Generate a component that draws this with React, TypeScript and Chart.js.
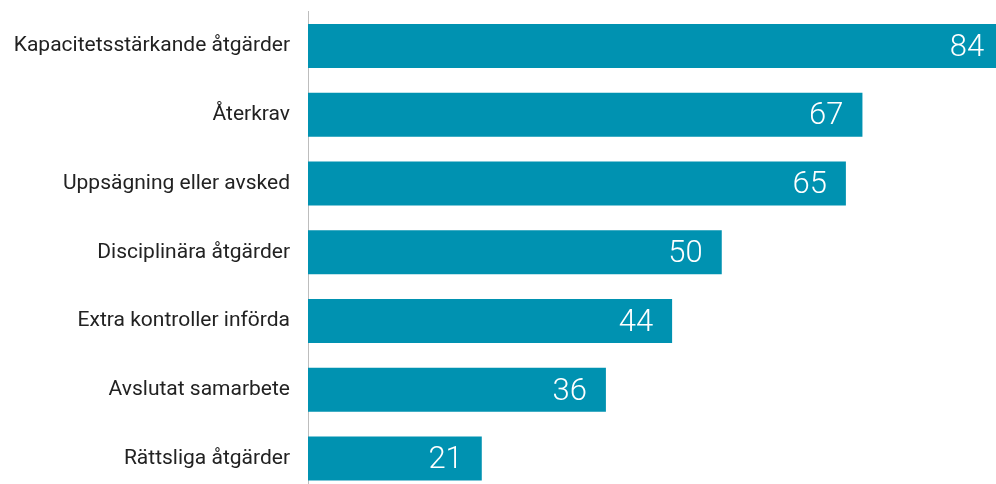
import React, { useEffect, useRef } from "react";
import { Chart, registerables } from "chart.js";

Chart.register(...registerables);

const categories = [
  "Kapacitetsstärkande åtgärder",
  "Återkrav",
  "Uppsägning eller avsked",
  "Disciplinära åtgärder",
  "Extra kontroller införda",
  "Avslutat samarbete",
  "Rättsliga åtgärder",
];
const values = [84, 67, 65, 50, 44, 36, 21];

const valueLabels = {
  id: "valueLabels",
  afterDatasetsDraw(chart: any) {
    const { ctx } = chart;
    const meta = chart.getDatasetMeta(0);
    ctx.save();
    ctx.fillStyle = "#ffffff";
    ctx.font = "300 31px Roboto";
    ctx.textAlign = "right";
    ctx.textBaseline = "middle";
    meta.data.forEach((bar: any, i: number) => {
      ctx.fillText(String(values[i]), bar.x - 19, bar.y + 2);
    });
    ctx.restore();
  },
};

export default function App() {
  const ref = useRef<HTMLCanvasElement>(null);
  useEffect(() => {
    const chart = new Chart(ref.current!, {
      type: "bar",
      data: {
        labels: categories,
        datasets: [
          {
            data: values,
            backgroundColor: "#0092B1",
            borderWidth: 0,
            barPercentage: 0.64,
            categoryPercentage: 1,
          },
        ],
      },
      options: {
        indexAxis: "y",
        animation: false,
        responsive: false,
        layout: { padding: { top: 11.5, right: 0, bottom: 0, left: 0 } },
        plugins: { legend: { display: false }, tooltip: { enabled: false } },
        scales: {
          x: {
            min: 0,
            max: 83.14,
            display: false,
          },
          y: {
            afterFit: (s: any) => {
              s.width = 308;
              s.paddingTop = 0;
              s.paddingBottom = 0;
            },
            grid: { display: false, drawTicks: false },
            border: { display: true, color: "#bdbdbd", width: 1 },
            ticks: {
              color: "#222222",
              padding: 18,
              font: { family: "Roboto", size: 21 },
            },
          },
        },
      },
      plugins: [valueLabels],
    });
    return () => chart.destroy();
  }, []);
  return (
    <div style={{ position: "fixed", left: 0, top: 0, width: 996, height: 493, background: "#fff" }}>
      <canvas ref={ref} width={996} height={493} style={{ display: "block" }} />
    </div>
  );
}
